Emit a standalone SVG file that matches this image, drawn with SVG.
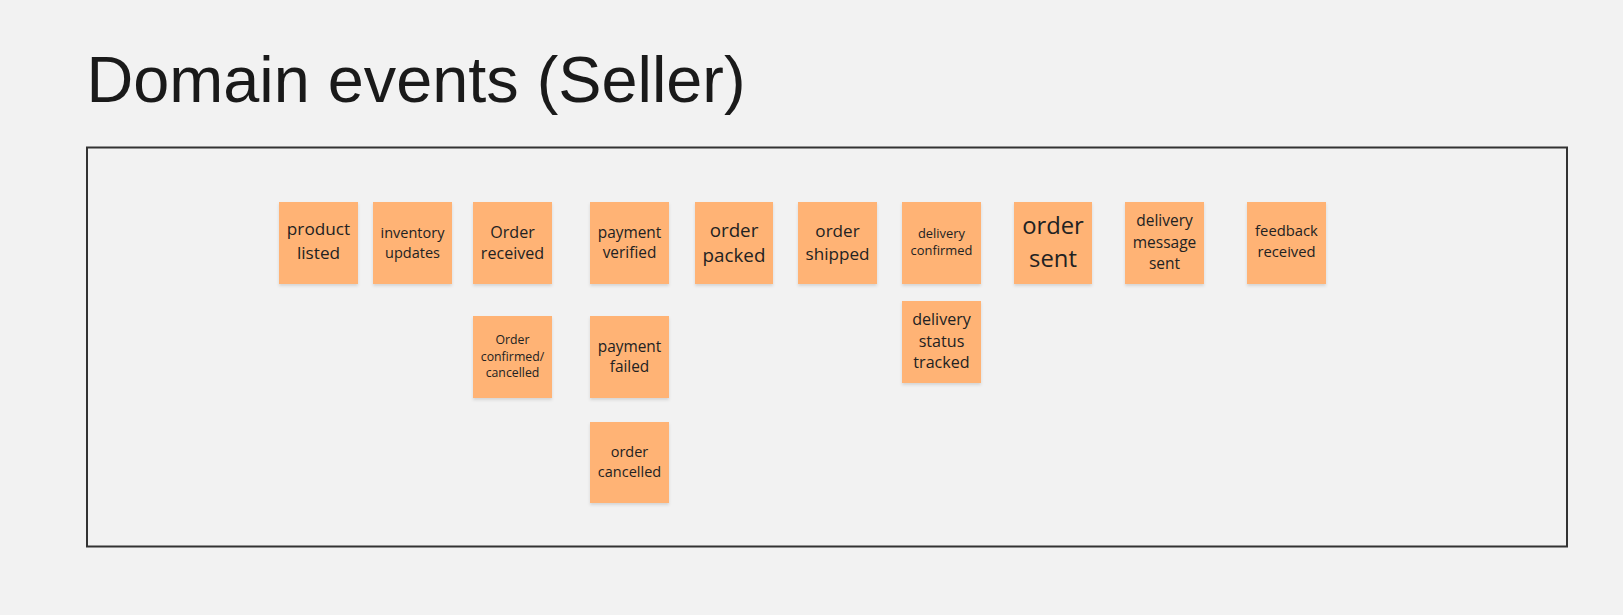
<svg xmlns="http://www.w3.org/2000/svg" width="1623" height="615" viewBox="0 0 1623 615">
<defs>
<filter id="sh" x="-10%" y="-10%" width="120%" height="125%">
<feDropShadow dx="0" dy="2" stdDeviation="1.5" flood-color="#000" flood-opacity="0.12"/>
</filter>
<style>
.bg{fill:#f2f2f2}
.title{font-family:"Liberation Sans",Arial,sans-serif;font-size:64.8px;fill:#1a1a1a}
.frame{fill:none;stroke:#333;stroke-width:2}
.st{fill:#ffb374;filter:url(#sh)}
.t{font-family:"Open Sans",sans-serif;fill:#222;text-anchor:middle}
</style>
</defs>
<rect class="bg" x="0" y="0" width="1623" height="615"/>
<text class="title" x="86.5" y="102">Domain events (Seller)</text>
<rect class="frame" x="87" y="147.5" width="1480" height="399"/>
<g id="connectors"/>
<g id="product-listed"><rect class="st" x="279" y="202" width="79" height="82"/>
<text class="t" font-size="17.2" x="318.5"><tspan x="318.5" y="235">product</tspan><tspan x="318.5" y="259">listed</tspan></text></g>
<g id="inventory-updates"><rect class="st" x="373" y="202" width="79" height="82"/>
<text class="t" font-size="14.5" x="412.5"><tspan x="412.5" y="238">inventory</tspan><tspan x="412.5" y="257.5">updates</tspan></text></g>
<g id="order-received"><rect class="st" x="473" y="202" width="79" height="82"/>
<text class="t" font-size="16.1" x="512.5"><tspan x="512.5" y="237.5">Order</tspan><tspan x="512.5" y="259">received</tspan></text></g>
<g id="payment-verified"><rect class="st" x="590" y="202" width="79" height="82"/>
<text class="t" font-size="15.4" x="629.5"><tspan x="629.5" y="238">payment</tspan><tspan x="629.5" y="257.5">verified</tspan></text></g>
<g id="order-packed"><rect class="st" x="695" y="202" width="78" height="82"/>
<text class="t" font-size="18.8" x="734"><tspan x="734" y="236.5">order</tspan><tspan x="734" y="261.5">packed</tspan></text></g>
<g id="order-shipped"><rect class="st" x="798" y="202" width="79" height="82"/>
<text class="t" font-size="17.1" x="837.5"><tspan x="837.5" y="236.5">order</tspan><tspan x="837.5" y="260">shipped</tspan></text></g>
<g id="delivery-confirmed"><rect class="st" x="902" y="202" width="79" height="82"/>
<text class="t" font-size="12.9" x="941.5"><tspan x="941.5" y="237.5">delivery</tspan><tspan x="941.5" y="255">confirmed</tspan></text></g>
<g id="order-sent"><rect class="st" x="1014" y="202" width="78" height="82"/>
<text class="t" font-size="23.8" x="1053"><tspan x="1053" y="233.5">order</tspan><tspan x="1053" y="266.5">sent</tspan></text></g>
<g id="delivery-message-sent"><rect class="st" x="1125" y="202" width="79" height="82"/>
<text class="t" font-size="15.5" x="1164.5"><tspan x="1164.5" y="225.5">delivery</tspan><tspan x="1164.5" y="247.5">message</tspan><tspan x="1164.5" y="268.5">sent</tspan></text></g>
<g id="feedback-received"><rect class="st" x="1247" y="202" width="79" height="82"/>
<text class="t" font-size="14.8" x="1286.5"><tspan x="1286.5" y="236">feedback</tspan><tspan x="1286.5" y="256.5">received</tspan></text></g>
<g id="order-confirmed-cancelled"><rect class="st" x="473" y="316" width="79" height="82"/>
<text class="t" font-size="12.3" x="512.5"><tspan x="512.5" y="344">Order</tspan><tspan x="512.5" y="360.5">confirmed/</tspan><tspan x="512.5" y="377.3">cancelled</tspan></text></g>
<g id="payment-failed"><rect class="st" x="590" y="316" width="79" height="82"/>
<text class="t" font-size="15.4" x="629.5"><tspan x="629.5" y="351.5">payment</tspan><tspan x="629.5" y="372.3">failed</tspan></text></g>
<g id="order-cancelled"><rect class="st" x="590" y="422" width="79" height="81"/>
<text class="t" font-size="14.5" x="629.5"><tspan x="629.5" y="456.7">order</tspan><tspan x="629.5" y="476.7">cancelled</tspan></text></g>
<g id="delivery-status-tracked"><rect class="st" x="902" y="301" width="79" height="82"/>
<text class="t" font-size="16.1" x="941.5"><tspan x="941.5" y="325">delivery</tspan><tspan x="941.5" y="346.7">status</tspan><tspan x="941.5" y="368.3">tracked</tspan></text></g>
</svg>
